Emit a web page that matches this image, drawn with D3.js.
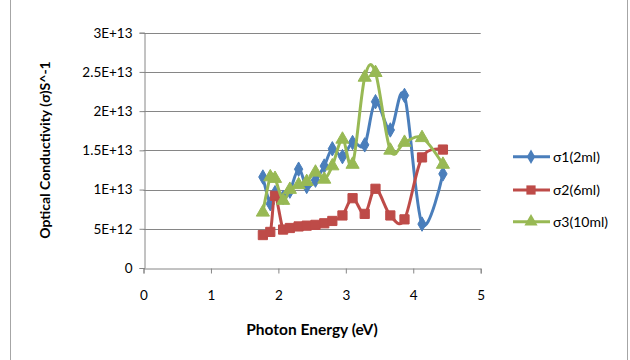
<!DOCTYPE html>
<html><head><meta charset="utf-8">
<script src="https://cdn.jsdelivr.net/npm/d3@7"></script>
<style>body{margin:0;background:#fff;}svg{display:block;}</style>
</head><body>
<svg id="c" width="630" height="360"></svg>
<script>
const energy = [1.77, 1.88, 1.95, 2.07, 2.17, 2.30, 2.42, 2.55, 2.68, 2.80, 2.95, 3.10, 3.28, 3.44, 3.66, 3.87, 4.13, 4.44];
const sigma1 = [11.6e12, 8.2e12, 9.6e12, 9.0e12, 9.8e12, 12.6e12, 10.4e12, 11.2e12, 13.0e12, 15.2e12, 14.2e12, 16.0e12, 15.7e12, 21.2e12, 17.6e12, 22.0e12, 5.6e12, 12.0e12];
const sigma2 = [4.2e12, 4.6e12, 9.2e12, 4.9e12, 5.1e12, 5.3e12, 5.4e12, 5.5e12, 5.7e12, 6.0e12, 6.7e12, 8.9e12, 6.9e12, 10.1e12, 6.7e12, 6.2e12, 14.1e12, 15.1e12];
const sigma3 = [7.1e12, 11.6e12, 11.4e12, 8.6e12, 10.0e12, 10.6e12, 11.0e12, 12.2e12, 11.3e12, 13.0e12, 16.4e12, 13.2e12, 24.3e12, 24.9e12, 15.0e12, 16.0e12, 16.6e12, 13.2e12];
const seriesNames = ["σ1(2ml)", "σ2(6ml)", "σ3(10ml)"];
const yTicks = [0, 5e12, 1e13, 1.5e13, 2e13, 2.5e13, 3e13];
const yTickLabels = ["0", "5E+12", "1E+13", "1.5E+13", "2E+13", "2.5E+13", "3E+13"];
const xTicks = [0, 1, 2, 3, 4, 5];

const series = [
  {name: seriesNames[0], values: sigma1, color: "#4A7EBB", marker: d3.symbolDiamond, msize: 60},
  {name: seriesNames[1], values: sigma2, color: "#BE4B48", marker: d3.symbolSquare, msize: 85},
  {name: seriesNames[2], values: sigma3, color: "#98B954", marker: d3.symbolTriangle, msize: 75}
];

const svg = d3.select("#c");
const font = "Lato, 'Open Sans', sans-serif";
const x = d3.scaleLinear().domain([0, 5]).range([143.5, 480.7]);
const y = d3.scaleLinear().domain([0, 3e13]).range([268, 32.7]);

// chart border
svg.append("rect").attr("x", 10.5).attr("y", -3).attr("width", 617).attr("height", 366)
  .attr("fill", "none").attr("stroke", "#a6a6a6").attr("stroke-width", 1);

// gridlines
svg.append("g").selectAll("line").data(yTicks.slice(1)).join("line")
  .attr("x1", x(0)).attr("x2", x(5))
  .attr("y1", d => Math.round(y(d)) + 0.5).attr("y2", d => Math.round(y(d)) + 0.5)
  .attr("stroke", "#868686").attr("stroke-width", 1);

// y axis
const yAxis = svg.append("g").attr("transform", `translate(${Math.round(x(0)) + 0.5},0)`)
  .call(d3.axisLeft(y).tickValues(yTicks).tickFormat((d, i) => yTickLabels[i]).tickSize(5).tickPadding(7));
yAxis.select(".domain").attr("stroke", "#868686");
yAxis.selectAll(".tick line").attr("stroke", "#868686");
yAxis.selectAll("text").attr("font-family", font).attr("font-size", 13.5).attr("fill", "#000");

// x axis
const xAxis = svg.append("g").attr("transform", `translate(0,${Math.round(y(0)) + 0.5})`)
  .call(d3.axisBottom(x).tickValues(xTicks).tickFormat(d3.format("d")).tickSize(5).tickPadding(17));
xAxis.select(".domain").attr("stroke", "#868686");
xAxis.selectAll(".tick line").attr("stroke", "#868686");
xAxis.selectAll("text").attr("font-family", font).attr("font-size", 13.5).attr("fill", "#000");

// axis titles
svg.append("text").attr("x", 312).attr("y", 335).attr("text-anchor", "middle")
  .attr("font-family", font).attr("font-weight", "bold").attr("font-size", 15.5)
  .text("Photon Energy (eV)");
svg.append("text").attr("transform", "translate(50,150) rotate(-90)").attr("text-anchor", "middle")
  .attr("font-family", font).attr("font-weight", "bold").attr("font-size", 14)
  .text("Optical Conductivity (σ)S^-1");

// lines
const line = d3.line().x((d, i) => x(energy[i])).y(d => y(d)).curve(d3.curveCardinal.tension(0));
const plot = svg.append("g");
series.forEach(s => {
  plot.append("path").datum(s.values).attr("d", line)
    .attr("fill", "none").attr("stroke", s.color).attr("stroke-width", 3)
    .attr("stroke-linejoin", "round");
  plot.append("g").selectAll("path").data(s.values).join("path")
    .attr("transform", (d, i) => `translate(${x(energy[i])},${y(d)})`)
    .attr("d", d3.symbol().type(s.marker).size(s.msize))
    .attr("fill", s.color).attr("stroke", s.color).attr("stroke-width", 1);
});

// legend
const legY = [156.7, 190, 221.7];
const leg = svg.append("g");
series.forEach((s, i) => {
  const g = leg.append("g").attr("transform", `translate(0,${legY[i]})`);
  g.append("line").attr("x1", 513).attr("x2", 550).attr("y1", 0).attr("y2", 0)
    .attr("stroke", s.color).attr("stroke-width", 3);
  g.append("path").attr("transform", "translate(531,0)")
    .attr("d", d3.symbol().type(s.marker).size(s.msize)).attr("fill", s.color);
  g.append("text").attr("x", 553).attr("y", 0).attr("dy", "0.35em")
    .attr("font-family", font).attr("font-size", 14).text(s.name);
});
</script>
</body></html>
